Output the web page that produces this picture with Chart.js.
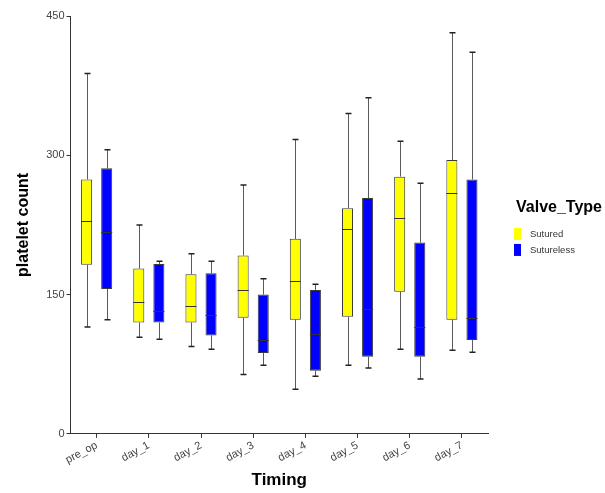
<!DOCTYPE html>
<html>
<head>
<meta charset="utf-8">
<script src="https://cdn.jsdelivr.net/npm/chart.js@4/dist/chart.umd.min.js"></script>
<style>
html,body{margin:0;padding:0;background:#fff;}
#wrap{position:relative;width:605px;height:493px;}
</style>
</head>
<body>
<div id="wrap"><canvas id="c" width="605" height="493"></canvas></div>
<script>
const categories = ['pre_op','day_1','day_2','day_3','day_4','day_5','day_6','day_7'];
const seriesNames = ['Sutured','Sutureless'];
const legendTitle = 'Valve_Type';
const yTicks = [0,150,300,450];

const suturedMin    = [115,104, 94, 64, 48, 74, 91, 90];
const suturedQ1     = [182,120,120,125,123,126,153,123];
const suturedMedian = [229,142,138,155,165,221,232,259];
const suturedQ3     = [274,178,172,192,210,243,277,295];
const suturedMax    = [388,225,194,268,317,345,315,432];

const suturelessMin    = [123,102, 91, 74, 62, 71, 59, 88];
const suturelessQ1     = [156,120,106, 87, 68, 83, 83,101];
const suturelessMedian = [217,132,128,101,108,134,115,125];
const suturelessQ3     = [286,183,173,150,155,254,206,274];
const suturelessMax    = [306,186,186,167,161,362,270,411];

const FONT = 'Arial, "Liberation Sans", sans-serif';

function makeDataset(label, color, mn, q1, med, q3, mx){
  return {
    label: label,
    data: q1.map((v,i)=>[v, q3[i]]),
    backgroundColor: color,
    borderColor: '#3a3a3a',
    borderWidth: 1,
    borderSkipped: false,
    whiskerMin: mn,
    whiskerMax: mx,
    medianVals: med
  };
}

const boxPlugin = {
  id: 'boxWhiskers',
  beforeDatasetsDraw(chart){
    const ctx = chart.ctx, ys = chart.scales.y;
    chart.data.datasets.forEach((ds,i)=>{
      const meta = chart.getDatasetMeta(i);
      meta.data.forEach((bar,j)=>{
        const x = Math.round(bar.x) + 0.5;
        const yMax = ys.getPixelForValue(ds.whiskerMax[j]);
        const yMin = ys.getPixelForValue(ds.whiskerMin[j]);
        const yQ3 = ys.getPixelForValue(ds.data[j][1]);
        const yQ1 = ys.getPixelForValue(ds.data[j][0]);
        ctx.save();
        ctx.strokeStyle = '#5a5a5a';
        ctx.lineWidth = 1;
        ctx.beginPath();
        ctx.moveTo(x, yMax); ctx.lineTo(x, yQ3);
        ctx.moveTo(x, yQ1); ctx.lineTo(x, yMin);
        ctx.stroke();
        ctx.strokeStyle = '#222';
        ctx.lineWidth = 1.5;
        ctx.beginPath();
        ctx.moveTo(x-3, yMax); ctx.lineTo(x+3, yMax);
        ctx.moveTo(x-3, yMin); ctx.lineTo(x+3, yMin);
        ctx.stroke();
        ctx.restore();
      });
    });
  },
  afterDatasetsDraw(chart){
    const ctx = chart.ctx, ys = chart.scales.y;
    chart.data.datasets.forEach((ds,i)=>{
      const meta = chart.getDatasetMeta(i);
      meta.data.forEach((bar,j)=>{
        const ym = Math.round(ys.getPixelForValue(ds.medianVals[j])) + 0.5;
        ctx.save();
        ctx.strokeStyle = '#333';
        ctx.lineWidth = 1;
        ctx.beginPath();
        ctx.moveTo(bar.x - bar.width/2, ym);
        ctx.lineTo(bar.x + bar.width/2, ym);
        ctx.stroke();
        ctx.restore();
      });
    });
  }
};

const legendPlugin = {
  id: 'sideLegend',
  afterDraw(chart){
    const ctx = chart.ctx, ca = chart.chartArea;
    const x0 = ca.right + 26;
    const yc = (ca.top + ca.bottom) / 2;
    ctx.save();
    ctx.textBaseline = 'middle';
    ctx.textAlign = 'left';
    ctx.fillStyle = '#000';
    ctx.font = 'bold 16px ' + FONT;
    ctx.fillText(legendTitle, x0 + 2, yc - 17);
    ctx.font = '9.5px ' + FONT;
    chart.data.datasets.forEach((ds,i)=>{
      const cy = yc + 9 + i*16;
      ctx.fillStyle = ds.backgroundColor;
      ctx.fillRect(x0, cy - 6, 7, 12);
      ctx.fillStyle = '#333';
      ctx.fillText(ds.label, x0 + 16, cy);
    });
    ctx.restore();
  }
};

new Chart(document.getElementById('c'), {
  type: 'bar',
  data: {
    labels: categories,
    datasets: [
      makeDataset(seriesNames[0], '#FFFF00', suturedMin, suturedQ1, suturedMedian, suturedQ3, suturedMax),
      makeDataset(seriesNames[1], '#0000FF', suturelessMin, suturelessQ1, suturelessMedian, suturelessQ3, suturelessMax)
    ]
  },
  options: {
    responsive: false,
    animation: false,
    devicePixelRatio: 1,
    categoryPercentage: 0.77,
    barPercentage: 0.55,
    layout: { padding: { top: 16, right: 117, bottom: 2, left: 14 } },
    plugins: {
      tooltip: { enabled: false },
      legend: { display: false }
    },
    scales: {
      x: {
        offset: true,
        border: { display: true, color: '#333', width: 1 },
        grid: { display: true, drawOnChartArea: false, offset: false, drawTicks: true, tickLength: 4, color: '#333' },
        ticks: { color: '#444', font: { family: FONT, size: 11 }, minRotation: 28, maxRotation: 28, padding: 1 },
        title: { display: true, text: 'Timing', color: '#000', font: { family: FONT, size: 17, weight: 'bold' }, padding: { top: 3, bottom: 0 } }
      },
      y: {
        min: 0,
        max: 450,
        afterBuildTicks(scale){ scale.ticks = yTicks.map(v=>({value:v})); },
        border: { display: true, color: '#333', width: 1 },
        grid: { display: true, drawOnChartArea: false, drawTicks: true, tickLength: 4, color: '#333' },
        ticks: { color: '#444', font: { family: FONT, size: 11 }, padding: 2 },
        title: { display: true, text: 'platelet count', color: '#000', font: { family: FONT, size: 16, weight: 'bold' }, padding: { top: 0, bottom: 11 } }
      }
    }
  },
  plugins: [boxPlugin, legendPlugin]
});
</script>
</body>
</html>
